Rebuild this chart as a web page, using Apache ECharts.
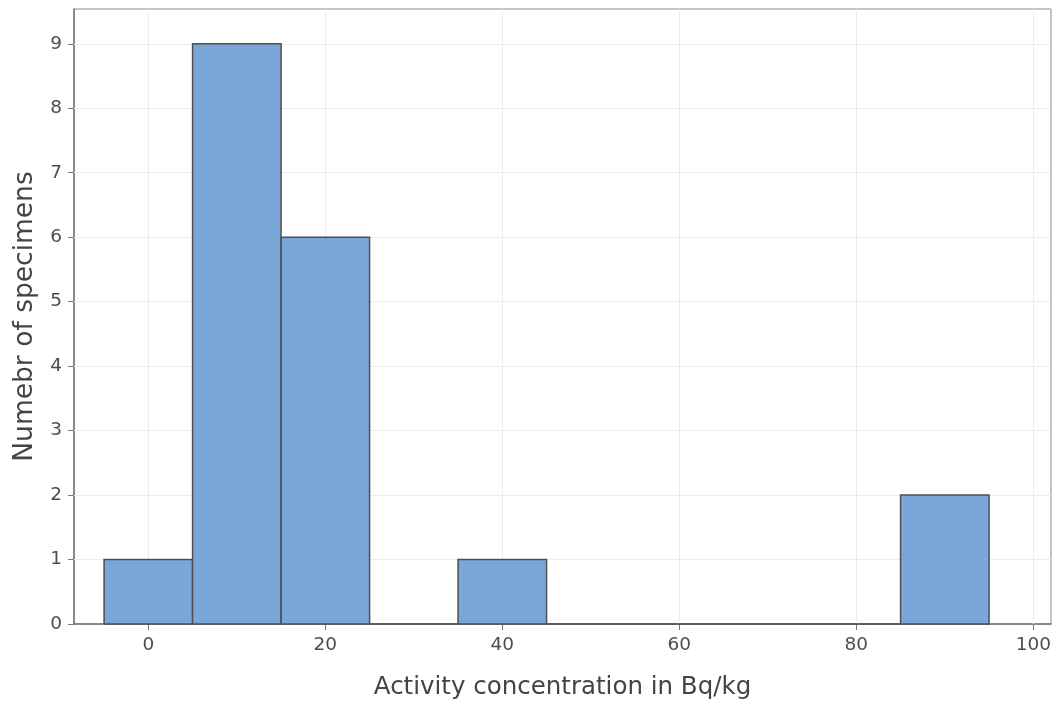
<!DOCTYPE html>
<html>
<head>
<meta charset="utf-8">
<script src="https://cdn.jsdelivr.net/npm/echarts@6/dist/echarts.min.js"></script>
<style>html,body{margin:0;padding:0;background:#fff;}#c{width:1057px;height:708px;}</style>
</head>
<body>
<div id="c"></div>
<script>
// Histogram bins (Bq/kg) and counts
const binStart = [-5, 5, 15, 25, 35, 45, 55, 65, 75, 85];
const binEnd   = [5, 15, 25, 35, 45, 55, 65, 75, 85, 95];
const counts   = [1, 9, 6, 0, 1, 0, 0, 0, 0, 2];
const xTicks = [0, 20, 40, 60, 80, 100];
const yTicks = [0, 1, 2, 3, 4, 5, 6, 7, 8, 9];
const xTitle = 'Activity concentration in Bq/kg';
const yTitle = 'Numebr of specimens';

const data = binStart.map((s, i) => [s, binEnd[i], counts[i]]);
const font = 'DejaVu Sans';
const chart = echarts.init(document.getElementById('c'));
chart.setOption({
  animation: false,
  grid: {left: 74, right: 6, top: 9, bottom: 84, show: true, borderColor: '#8a8a8a', borderWidth: 1, backgroundColor: 'transparent'},
  xAxis: {
    type: 'value', min: -8.4, max: 102,
    name: xTitle, nameLocation: 'middle', nameGap: 51,
    nameTextStyle: {fontFamily: font, fontSize: 24.5, color: '#444'},
    axisLine: {show: true, onZero: false, lineStyle: {color: '#777', width: 1.5}},
    axisTick: {show: true, length: 6, lineStyle: {color: '#777'}, customValues: xTicks},
    axisLabel: {fontFamily: font, fontSize: 18.5, color: '#4d4d4d', margin: 12, customValues: xTicks},
    splitLine: {show: false}
  },
  yAxis: {
    type: 'value', min: 0, max: 9.54,
    name: yTitle, nameLocation: 'middle', nameGap: 35, nameRotate: 90,
    nameTextStyle: {fontFamily: font, fontSize: 26.5, color: '#444'},
    axisLine: {show: true, onZero: false, lineStyle: {color: '#777', width: 1.5}},
    axisTick: {show: true, length: 6, lineStyle: {color: '#777'}, customValues: yTicks},
    axisLabel: {fontFamily: font, fontSize: 18.5, color: '#4d4d4d', margin: 12, customValues: yTicks},
    splitLine: {show: false}
  },
  series: [
    {
      type: 'line', data: [], z: 1, silent: true,
      markLine: {
        silent: true, z: 1, symbol: 'none', label: {show: false},
        lineStyle: {color: '#ececec', width: 1, type: 'solid'},
        data: xTicks.map(v => ({xAxis: v})).concat(yTicks.filter(v => v > 0).map(v => ({yAxis: v})))
      }
    },
    {
      type: 'custom', z: 3,
      data: data,
      renderItem: function (params, api) {
        const x0 = api.value(0), x1 = api.value(1), c = api.value(2);
        const p0 = api.coord([x0, c]);
        const p1 = api.coord([x1, 0]);
        return {
          type: 'rect',
          shape: {x: p0[0], y: p0[1], width: p1[0] - p0[0], height: p1[1] - p0[1]},
          style: {fill: '#7ba6d8', stroke: '#4f4f4f', lineWidth: 1.5}
        };
      }
    }
  ]
});
</script>
</body>
</html>
